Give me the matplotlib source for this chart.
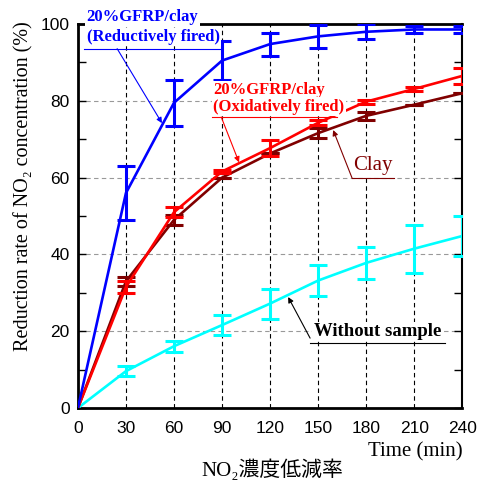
import matplotlib
matplotlib.use("Agg")
import matplotlib.pyplot as plt

time = [0, 30, 60, 90, 120, 150, 180, 210, 240]
reductive = [0, 56, 79.5, 90.5, 94.8, 96.8, 98.0, 98.6, 98.6]
reductive_err = [0, 7, 6, 5, 3, 3, 2, 1, 1]
oxidative = [0, 31.5, 51, 61.6, 67.7, 74.3, 79.8, 83.1, 86.5]
oxidative_err = [0, 1.6, 1.3, 0.5, 2, 0.7, 0.5, 0.6, 2]
clay = [0, 33, 49, 60, 66.3, 71.6, 76.1, 79, 82]
clay_err = [0, 1.1, 1.3, 0, 0, 1.3, 1.1, 0, 0]
nosample = [0, 9.6, 16.1, 21.6, 27.2, 33.2, 37.8, 41.5, 44.8]
nosample_err = [0, 1.3, 1.4, 2.6, 3.9, 4.0, 4.2, 6.3, 5.3]

xticks = [0, 30, 60, 90, 120, 150, 180, 210, 240]
yticks = [0, 20, 40, 60, 80, 100]

SERIF = "Liberation Serif"
SANS = "Liberation Sans"

fig = plt.figure(figsize=(4.78, 4.82), dpi=100)
ax = fig.add_axes([0.163, 0.1535, 0.804, 0.7965])

def series(y, e, color, z):
    ax.plot(time, y, color=color, lw=1.9, zorder=z)
    ax.errorbar(time[1:], y[1:], yerr=e[1:], fmt='none', ecolor=color,
                elinewidth=2.2, capsize=6.5, capthick=2.2, zorder=z)

series(nosample, nosample_err, '#00ffff', 3)
series(clay, clay_err, '#800000', 4)
series(oxidative, oxidative_err, '#ff0000', 5)
series(reductive, reductive_err, '#0000ff', 6)

ax.set_xlim(0, 240)
ax.set_ylim(0, 100)
ax.set_xticks(xticks)
ax.set_yticks(yticks)
ax.set_yticks(range(10, 100, 20), minor=True)
for t in xticks[1:-1]:
    ax.axvline(t, color='black', ls=(0, (4, 3)), lw=0.8, zorder=1)
for t in yticks[1:-1]:
    ax.axhline(t, color='#999999', ls=(0, (4, 3)), lw=0.8, zorder=1)

ax.tick_params(axis='y', which='both', direction='in', right=True, length=6, width=1, pad=6)
ax.tick_params(axis='x', direction='in', length=0, pad=9)
ax.tick_params(axis='both', labelsize=12.5)
for lab in ax.get_xticklabels() + ax.get_yticklabels():
    lab.set_family(SANS)
for s in ['left', 'bottom', 'top']:
    ax.spines[s].set_linewidth(2.0)
ax.spines['right'].set_linewidth(1.5)

ax.set_ylabel("Reduction rate of NO\u2082 concentration (%)", family=SERIF, fontsize=14.5)
ax.yaxis.set_label_coords(-0.115, 0.578)
fig.text(0.967, 0.062, "Time (min)", family=SERIF, fontsize=15, ha='right', va='center')
fig.text(0.569, 0.024, "NO\u2082濃度低減率", family=[SERIF, 'Noto Sans CJK JP'], fontsize=15,
         ha='center', va='center')

arrow = dict(arrowstyle='-|>', lw=0.8, mutation_scale=8, shrinkA=0, shrinkB=0)
wbox = dict(facecolor='white', edgecolor='none', pad=1)

def label(x, y, s, color, size=12, weight='bold', ha='left'):
    ax.text(x, y, s, color=color, family=SERIF, fontweight=weight, fontsize=size,
            ha=ha, va='center', bbox=wbox, zorder=10, clip_on=False)

# Reductive label
label(5.5, 101.8, "20%GFRP/clay", '#0000ff')
label(5.5, 96.6, "(Reductively fired)", '#0000ff')
ax.plot([3.5, 90], [93.6, 93.6], color='#0000ff', lw=0.8, clip_on=False, zorder=11)
ax.annotate("", xy=(52.5, 74.2), xytext=(24.5, 93.6),
            arrowprops=dict(arrow, color='#0000ff'), zorder=11)

# Oxidative label
label(84.5, 82.8, "20%GFRP/clay", '#ff0000')
label(84.5, 78.5, "(Oxidatively fired)", '#ff0000')
ax.plot([84, 162], [75.8, 75.8], color='#ff0000', lw=0.8, zorder=11)
ax.annotate("", xy=(100.6, 64), xytext=(89.5, 75.8),
            arrowprops=dict(arrow, color='#ff0000'), zorder=11)

# Clay label
label(184.5, 63.2, "Clay", '#800000', size=15, weight='normal', ha='center')
ax.plot([171, 197.5], [59.9, 59.9], color='#800000', lw=0.8, zorder=11)
ax.annotate("", xy=(159.4, 72.4), xytext=(171.2, 59.9),
            arrowprops=dict(arrow, color='#800000'), zorder=11)

# Without sample label
label(187, 19.9, "Without sample", 'black', size=13.5, ha='center')
ax.plot([145, 229], [16.9, 16.9], color='black', lw=0.8, zorder=11)
ax.annotate("", xy=(131.3, 28.9), xytext=(145, 18.2),
            arrowprops=dict(arrow, color='black'), zorder=11)

fig.savefig("out.png", dpi=100)
